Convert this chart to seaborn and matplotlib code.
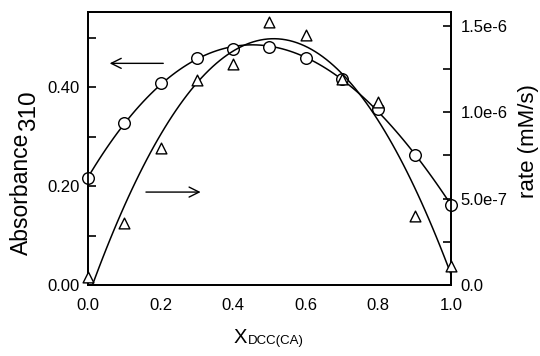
import numpy as np
import pandas as pd
import matplotlib
matplotlib.use("Agg")
import matplotlib.pyplot as plt
import seaborn as sns

# Mole fraction of DCC(CA)
x_frac = [0.0, 0.1, 0.2, 0.3, 0.4, 0.5, 0.6, 0.7, 0.8, 0.9, 1.0]
# Absorbance at 310 nm (left axis)
absorbance = [0.216, 0.327, 0.408, 0.459, 0.477, 0.481, 0.459, 0.416, 0.355, 0.263, 0.162]
# Initial rate in mM/s (right axis)
rate = [0.46e-7, 3.58e-7, 7.9e-7, 1.185e-6, 1.28e-6, 1.52e-6, 1.445e-6, 1.19e-6, 1.06e-6, 3.99e-7, 1.1e-7]

x_ticks = [0.0, 0.1, 0.2, 0.3, 0.4, 0.5, 0.6, 0.7, 0.8, 0.9, 1.0]
x_labels = ["0.0", "", "0.2", "", "0.4", "", "0.6", "", "0.8", "", "1.0"]
left_ticks = [0.0, 0.1, 0.2, 0.3, 0.4, 0.5]
left_labels = ["0.00", "", "0.20", "", "0.40", ""]
right_ticks = [0.0, 2.5e-7, 5.0e-7, 7.5e-7, 1.0e-6, 1.25e-6, 1.5e-6]
right_labels = ["0.0", "", "5.0e-7", "", "1.0e-6", "", "1.5e-6"]

df = pd.DataFrame({"x": x_frac, "absorbance": absorbance, "rate": rate})

sns.set_style("white")
plt.rcParams["font.family"] = ["Liberation Sans", "DejaVu Sans"]
plt.rcParams["text.color"] = "black"
plt.rcParams["axes.labelcolor"] = "black"
plt.rcParams["xtick.color"] = "black"
plt.rcParams["ytick.color"] = "black"

W, H = 540, 356
fig = plt.figure(figsize=(W / 100, H / 100), dpi=100)
ax = fig.add_axes([0.163, 0.199, 0.672, 0.767])
ax2 = ax.twinx()


def px(x, y):
    """Pixel position (from top-left) to figure fraction."""
    return x / W, 1 - y / H


line_kws = dict(color="black", linewidth=1.1)
mk = dict(facecolor="white", edgecolor="black", linewidth=1.0, zorder=5, clip_on=False)

# Absorbance: smooth polynomial fit and open circles
sns.regplot(data=df, x="x", y="absorbance", order=3, ci=None, scatter=False,
            line_kws=line_kws, ax=ax)
sns.scatterplot(data=df, x="x", y="absorbance", marker="o", s=70, ax=ax, **mk)

# Rate: parabolic fit and open triangles
sns.regplot(data=df, x="x", y="rate", order=2, ci=None, scatter=False,
            line_kws=line_kws, ax=ax2)
sns.scatterplot(data=df, x="x", y="rate", marker="^", s=60, ax=ax2, **mk)

ax.set_xlim(0.0, 1.0)
ax.set_ylim(0.0, 0.5515)
ax2.set_ylim(0.0, 1.578e-6)

ax.set_xticks(x_ticks)
ax.set_xticklabels(x_labels)
ax.set_yticks(left_ticks)
ax.set_yticklabels(left_labels)
ax2.set_yticks(right_ticks)
ax2.set_yticklabels(right_labels)

for a in (ax, ax2):
    for s in a.spines.values():
        s.set_linewidth(1.3)
        s.set_color("black")
    a.tick_params(direction="in", length=6, width=1.2, labelsize=12,
                  colors="black")
ax.tick_params(axis="x", pad=9)
ax.tick_params(axis="y", pad=6)
ax2.tick_params(axis="y", left=False, right=True, labelleft=False,
                labelright=True, pad=7)

ax.set_xlabel("")
ax.set_ylabel("")
ax2.set_ylabel("")

# Axis titles
fig.text(*px(234, 343), "X", fontsize=14.5, ha="left", va="baseline")
fig.text(*px(248, 344), "DCC(CA)", fontsize=9.5, ha="left", va="baseline")

fig.text(*px(28, 255), "Absorbance", fontsize=16.5, rotation=90,
         rotation_mode="anchor", ha="left", va="baseline")
fig.text(*px(35, 131), "310", fontsize=17.5, rotation=90,
         rotation_mode="anchor", ha="left", va="baseline")

fig.text(*px(534, 141), "rate (mM/s)", fontsize=16, rotation=90,
         rotation_mode="anchor", ha="center", va="baseline")

# Arrows pointing to the axis each series belongs to
ax.annotate("", xy=(0.052, 0.448), xytext=(0.215, 0.448),
            arrowprops=dict(arrowstyle="->", color="black", lw=1.0,
                            mutation_scale=18))
ax.annotate("", xy=(0.318, 0.188), xytext=(0.152, 0.188),
            arrowprops=dict(arrowstyle="->", color="black", lw=1.0,
                            mutation_scale=18))

fig.savefig("out.png", dpi=100)
